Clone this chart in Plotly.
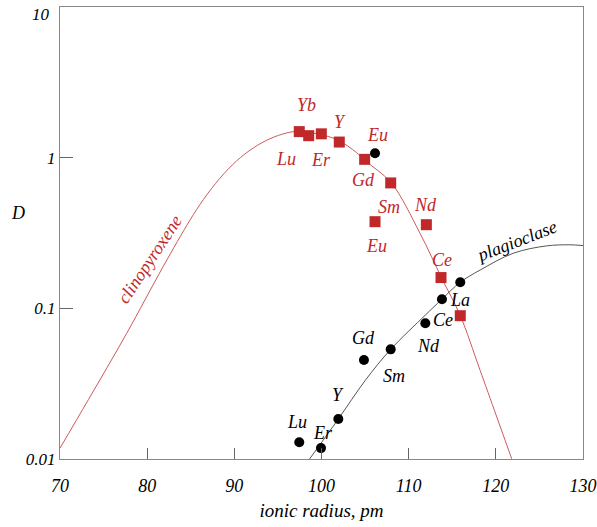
import numpy as np
import plotly.graph_objects as go

# ---------------- data ----------------
cpx_elem = ['Lu', 'Yb', 'Er', 'Y', 'Gd', 'Eu', 'Sm', 'Nd', 'Ce', 'La']
cpx_r = [97.45, 98.53, 99.98, 102.04, 104.95, 106.14, 107.94, 112.03, 113.71, 115.92]
cpx_D = [1.49, 1.40, 1.44, 1.27, 0.975, 0.376, 0.68, 0.359, 0.160, 0.0893]

plag_elem = ['Lu', 'Er', 'Y', 'Gd', 'Eu', 'Sm', 'Nd', 'Ce', 'La']
plag_r = [97.45, 99.94, 101.93, 104.87, 106.14, 107.94, 111.91, 113.82, 115.92]
plag_D = [0.0129, 0.0118, 0.0184, 0.0454, 1.07, 0.0534, 0.0796, 0.115, 0.149]

cpx_curve_r = [70, 73.25, 77.65, 81.85, 84.91, 86.44, 88.35, 90.27, 92.18, 94.09, 96.0, 97.45,
               99.0, 101, 102, 104, 105, 108, 111.3, 113.8, 115.9, 118.2, 121.8, 122.6]
cpx_curve_D = [0.0118, 0.0247, 0.0682, 0.19, 0.385, 0.526, 0.731, 0.953, 1.161, 1.337, 1.459,
               1.50, 1.46, 1.37, 1.30, 1.084, 0.955, 0.68, 0.315, 0.158, 0.090, 0.0387,
               0.0101, 0.0075]

plag_curve_r = [98.3, 101.93, 105, 107.94, 111.9, 113.82, 115.92, 118.2, 122.0, 125.8, 128.5, 130]
plag_curve_D = [0.0094, 0.0184, 0.0331, 0.0534, 0.090, 0.115, 0.149, 0.1795, 0.232, 0.2596,
                0.264, 0.261]

x_ticks = [70, 80, 90, 100, 110, 120, 130]
y_ticks = [0.01, 0.1, 1, 10]
y_ticktext = ['0.01', '0.1', '1', '']   # the top label "10" is drawn as an annotation below
y_top_label = '10'

# label offsets (pixels) relative to their points
cpx_label_shift = {'Lu': (-13, -27), 'Yb': (-2, 31), 'Er': (0, -26), 'Y': (1, 20),
                   'Gd': (-1, -21), 'Eu': (1, -24), 'Sm': (-2, -24), 'Nd': (-1, 20),
                   'Ce': (1, 18)}
plag_label_shift = {'Lu': (-2, 20), 'Er': (2, 15), 'Y': (0, 24), 'Gd': (0, 22),
                    'Sm': (3, -27), 'Nd': (3, -23), 'Ce': (1, -21), 'La': (0, -18)}

RED = '#c0282a'
RED_LINE = '#cd5a5a'
FONT = 'Liberation Serif'

fig = go.Figure()
fig.add_trace(go.Scatter(x=cpx_curve_r, y=cpx_curve_D, mode='lines',
                         line=dict(color=RED_LINE, width=1, shape='spline'),
                         hoverinfo='skip', showlegend=False))
fig.add_trace(go.Scatter(x=plag_curve_r, y=plag_curve_D, mode='lines',
                         line=dict(color='#555555', width=1, shape='spline'),
                         hoverinfo='skip', showlegend=False))
fig.add_trace(go.Scatter(x=cpx_r, y=cpx_D, mode='markers', text=cpx_elem,
                         marker=dict(symbol='square', size=11, color=RED),
                         showlegend=False, cliponaxis=False))
fig.add_trace(go.Scatter(x=plag_r, y=plag_D, mode='markers', text=plag_elem,
                         marker=dict(symbol='circle', size=10, color='black'),
                         showlegend=False, cliponaxis=False))

ann = []
for e, r, d in zip(cpx_elem, cpx_r, cpx_D):
    if e in cpx_label_shift:
        dx, dy = cpx_label_shift[e]
        ann.append(dict(x=r, y=np.log10(d), text=e, showarrow=False, xshift=dx, yshift=dy,
                        font=dict(family=FONT, size=18, color=RED)))
for e, r, d in zip(plag_elem, plag_r, plag_D):
    if e in plag_label_shift:
        dx, dy = plag_label_shift[e]
        ann.append(dict(x=r, y=np.log10(d), text=e, showarrow=False, xshift=dx, yshift=dy,
                        font=dict(family=FONT, size=18, color='black')))
    if e == 'Eu':
        ann.append(dict(x=r, y=np.log10(d), text='Eu', showarrow=False, xshift=2, yshift=18,
                        font=dict(family=FONT, size=18, color=RED)))

ann.append(dict(x=79.98, y=-0.673, text='clinopyroxene', showarrow=False, textangle=-56.5,
                xshift=3, yshift=0, font=dict(family=FONT, size=18, color=RED)))
ann.append(dict(x=122.4, y=-0.573, text='plagioclase', showarrow=False, textangle=-21,
                yshift=3, font=dict(family=FONT, size=18, color='black')))
ann.append(dict(xref='x domain', yref='y domain', x=-0.08, y=(459 - 213) / 452.0,
                xanchor='center', yanchor='middle',
                text='D', showarrow=False, font=dict(family=FONT, size=18, color='black')))
ann.append(dict(xref='x domain', yref='y', x=0, y=np.log10(y_ticks[-1]), xanchor='right',
                yanchor='middle', xshift=-8, yshift=-7, text=y_top_label, showarrow=False,
                font=dict(family=FONT, size=17, color='black')))

fig.update_layout(
    width=597, height=527,
    margin=dict(l=60, r=14, t=7, b=68),
    plot_bgcolor='white', paper_bgcolor='white',
    font=dict(family=FONT, size=17, color='black'),
    annotations=ann,
    xaxis=dict(range=[70, 130], tickvals=x_ticks, ticks='inside', ticklen=11,
               tickcolor='#666', showline=True, linecolor='#888', linewidth=1.3,
               mirror=True, showgrid=False, zeroline=False, automargin=False,
               ticklabelstandoff=10, ticklabeloverflow='allow',
               tickfont=dict(family=FONT, size=18, style='italic'),
               title=dict(text='ionic radius, pm', standoff=8,
                          font=dict(family=FONT, size=19, style='italic'))),
    yaxis=dict(type='log', range=[-2.0005, 1.0005], tickvals=y_ticks, ticktext=y_ticktext,
               ticks='inside', ticklen=13, tickcolor='#666', showline=True,
               linecolor='#888', linewidth=1.3, mirror=True, showgrid=False,
               zeroline=False, automargin=False, ticklabeloverflow='allow',
               tickfont=dict(family=FONT, size=17, style='italic')),
)
for a in fig.layout.annotations:
    a.font.style = 'italic'

fig.write_html('out.html', config={'displayModeBar': False},
               post_script="document.body.style.margin='0px';document.body.style.padding='0px';")
